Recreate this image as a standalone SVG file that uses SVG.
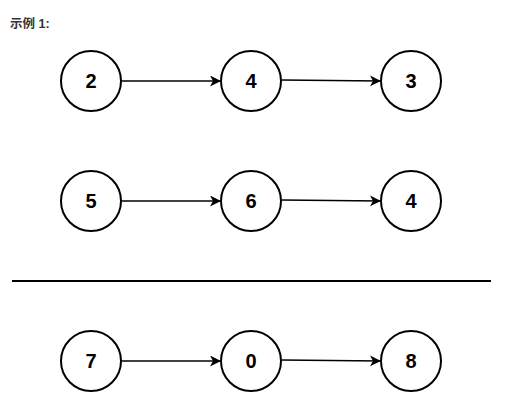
<svg xmlns="http://www.w3.org/2000/svg" width="511" height="400" viewBox="0 0 511 400">
<style>
.n circle{fill:#fff;stroke:#000;stroke-width:2}
.n text{font-family:"Liberation Sans",Arial,sans-serif;font-weight:bold;font-size:20px;text-anchor:middle;fill:#000}
.e{stroke:#000;stroke-width:1.5;fill:none;marker-end:url(#a)}
.t{font-family:"Liberation Sans","Noto Sans CJK SC",sans-serif;font-weight:bold;font-size:12.5px;fill:#333}
</style>
<defs>
<marker id="a" markerWidth="12" markerHeight="12" refX="10" refY="5.5" orient="auto" markerUnits="userSpaceOnUse">
<path d="M0,0 L11,5.5 L0,11 L3,5.5 Z" fill="#000"/>
</marker>
</defs>
<rect width="511" height="400" fill="#fff"/>
<text class="t" x="10" y="28">示例 1:</text>
<g id="edges">
<line class="e" x1="122" y1="81" x2="220" y2="81"/>
<line class="e" x1="282" y1="80" x2="380" y2="81"/>
<line class="e" x1="122" y1="201" x2="220" y2="201"/>
<line class="e" x1="282" y1="200" x2="380" y2="201"/>
<line class="e" x1="122" y1="361" x2="220" y2="361"/>
<line class="e" x1="282" y1="360" x2="380" y2="361"/>
</g>
<g id="n2" class="n"><circle cx="91" cy="81" r="30"/><text x="91" y="88">2</text></g>
<g id="n4a" class="n"><circle cx="251" cy="81" r="30"/><text x="251" y="88">4</text></g>
<g id="n3" class="n"><circle cx="411" cy="81" r="30"/><text x="411" y="88">3</text></g>
<g id="n5" class="n"><circle cx="91" cy="201" r="30"/><text x="91" y="208">5</text></g>
<g id="n6" class="n"><circle cx="251" cy="201" r="30"/><text x="251" y="208">6</text></g>
<g id="n4b" class="n"><circle cx="411" cy="201" r="30"/><text x="411" y="208">4</text></g>
<line id="divider" x1="12" y1="281" x2="491" y2="281" stroke="#000" stroke-width="2"/>
<g id="n7" class="n"><circle cx="91" cy="361" r="30"/><text x="91" y="368">7</text></g>
<g id="n0" class="n"><circle cx="251" cy="361" r="30"/><text x="251" y="368">0</text></g>
<g id="n8" class="n"><circle cx="411" cy="361" r="30"/><text x="411" y="368">8</text></g>
</svg>
